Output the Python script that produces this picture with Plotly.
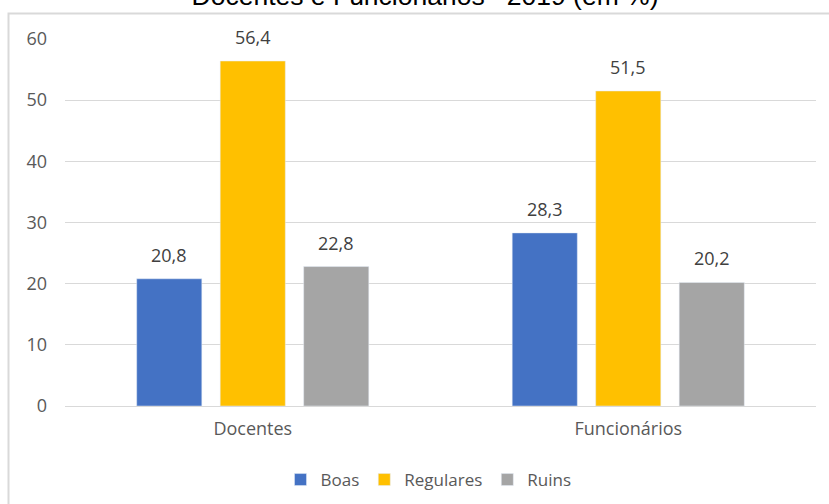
import plotly.graph_objects as go

categories = ["Docentes", "Funcionários"]
series_names = ["Boas", "Regulares", "Ruins"]
boas = [20.8, 28.3]
regulares = [56.4, 51.5]
ruins = [22.8, 20.2]
colors = ["#4472C4", "#FFC000", "#A5A5A5"]
y_ticks = [0, 10, 20, 30, 40, 50, 60]

FONT = "Open Sans, sans-serif"
W, H = 829, 504
L, R, T, B = 65, 816, 39, 406
PW, PH = R - L, B - T
BARGAP, GROUPGAP = 0.333, 0.22
slot = (1 - BARGAP) / len(series_names)

fig = go.Figure()
annotations = []
for i, (name, vals, col) in enumerate(zip(series_names, [boas, regulares, ruins], colors)):
    fig.add_trace(go.Bar(name=name, x=categories, y=vals, marker_color=col))
    for j, v in enumerate(vals):
        annotations.append(dict(
            x=j + (i - (len(series_names) - 1) / 2) * slot, y=v, xref="x", yref="y",
            text=f"{v:.1f}".replace(".", ","), showarrow=False,
            yanchor="bottom", yshift=10,
            font=dict(family=FONT, size=18, color="#404040"),
        ))

fig.update_layout(
    width=W, height=H,
    margin=dict(l=L, r=W - R, t=T, b=H - B, autoexpand=False),
    paper_bgcolor="white", plot_bgcolor="white",
    barmode="group", bargap=BARGAP, bargroupgap=GROUPGAP,
    annotations=annotations,
    title=dict(text="Docentes e Funcionários– 2019 (em %)", x=(192 + 658) / 2 / W, xanchor="center",
               y=1 - 5 / H, yanchor="bottom", automargin=False,
               font=dict(family="Liberation Sans, Arial", size=26.5, color="#000000")),
    xaxis=dict(showline=True, linecolor="#D9D9D9", linewidth=1, automargin=False,
               tickfont=dict(family=FONT, size=18, color="#595959"),
               ticks="", ticklabelstandoff=6),
    yaxis=dict(range=[0, 60], tickvals=y_ticks, showgrid=True, gridcolor="#D9D9D9",
               zeroline=False, ticks="", ticklabelstandoff=17, automargin=False,
               tickfont=dict(family=FONT, size=18, color="#595959")),
    legend=dict(orientation="h", x=((302 + 555) / 2 - L) / PW, xanchor="center",
                y=(B - 480) / PH, yanchor="middle",
                font=dict(family=FONT, size=17, color="#595959"),
                traceorder="normal", itemwidth=30),
    shapes=[dict(type="rect", xref="paper", yref="paper",
                 x0=(8.5 - L) / PW, x1=(840 - L) / PW,
                 y0=(B - 520) / PH, y1=(B - 13.5) / PH,
                 line=dict(color="#D9D9D9", width=2), layer="below")],
)

fig.write_html("out.html", config={"displayModeBar": False},
               post_script="document.body.style.margin='0';")
